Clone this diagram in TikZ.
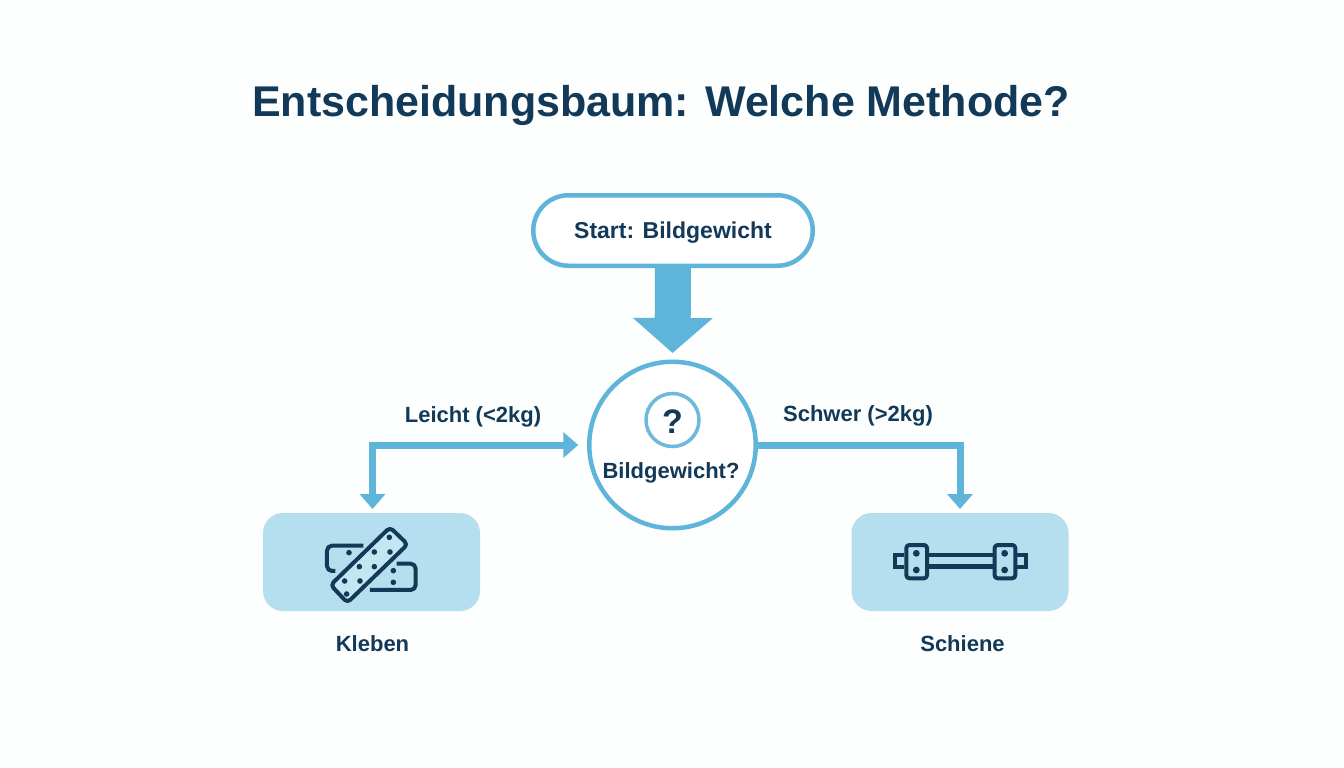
\documentclass[tikz,border=0pt]{standalone}
\usepackage{fontspec}
\setmainfont{Liberation Sans}
\usetikzlibrary{arrows.meta}
\definecolor{ink}{HTML}{123A58}
\definecolor{flow}{HTML}{5FB5D9}
\definecolor{panel}{HTML}{B5DFEF}
\definecolor{ringc}{HTML}{6DB9D9}
\definecolor{paper}{HTML}{FDFEFE}
\tikzset{
  x=1pt,y=-1pt,
  txt/.style={text=ink,font=\bfseries\fontsize{#1}{#1}\selectfont,inner sep=0pt,outer sep=0pt,anchor=center},
  pill/.style={draw=flow,line width=4.5pt,fill=white,rounded corners=35.25pt,minimum width=279.5pt,minimum height=70.5pt,inner sep=0pt,outer sep=0pt},
  bigcirc/.style={circle,draw=flow,line width=4.5pt,fill=white,minimum size=166.5pt,inner sep=0pt,outer sep=0pt},
  smallcirc/.style={circle,draw=ringc,line width=3.5pt,minimum size=53pt,inner sep=0pt,outer sep=0pt},
  panelbox/.style={fill=panel,rounded corners=20pt,minimum width=217pt,minimum height=98pt,inner sep=0pt,outer sep=0pt},
  conn/.style={draw=flow,line width=7pt,-{Triangle[length=15pt,width=25pt]}},
  iconline/.style={draw=ink,line width=4pt,line join=round},
  icondot/.style={fill=ink},
}
\begin{document}
\begin{tikzpicture}
\useasboundingbox (0,0) rectangle (1344,768);
\fill[paper] (0,0) rectangle (1344,768);
\node[txt=43] (title) at (661,105) {Entscheidungsbaum: Welche Methode?};
\node[pill] (start) at (673,230.5) {};
\node[txt=23] (starttext) at (673,233) {Start: Bildgewicht};
\node[bigcirc] (q) at (672.5,445) {};
\node[smallcirc] (qring) at (672.5,420) {};
\node[txt=34] (qmark) at (672.5,421.5) {?};
\node[txt=22] (qtext) at (671,472.5) {Bildgewicht?};
\node[panelbox] (kleben) at (371.5,562) {};
\node[panelbox] (schiene) at (960,562) {};
\node[txt=22] (klebentext) at (372.5,644) {Kleben};
\node[txt=22] (schienetext) at (962.5,644) {Schiene};
\node[txt=22] (leicht) at (473,416.5) {Leicht (<2kg)};
\node[txt=22] (schwer) at (858,415.5) {Schwer (>2kg)};
% connectors
\draw[draw=flow,line width=36pt,-{Triangle[length=35pt,width=78pt]},shorten >=8.75pt] (start.south) -- (q.north);
\draw[conn,{Triangle[length=15pt,width=25pt]}-{Triangle[length=15pt,width=25pt]},shorten <=11pt,shorten >=4pt] (q.west) -| ([xshift=1pt]kleben.north);
\draw[conn,shorten >=4pt] (q.east) -| (schiene.north);
% Kleben icon
\begin{scope}[shift={(250,500)},x=0.3333pt,y=-0.3333pt]
  \draw[iconline,rounded corners=5pt] (340,137) -- (231,137) -- (231,213) -- (256,213);
  \draw[iconline,rounded corners=5pt] (440,191) -- (497,191) -- (497,270) -- (360,270);
  \draw[iconline,rounded corners=4pt,fill=panel!80!white] (420,82) -- (473,133) -- (292,308) -- (242,255) -- cycle;
  \foreach \px/\py in {418/112,373/156,420/156,297/158,328/200,373/200,430/212,284/243,330/243,430/247,290/282}
    \fill[icondot] (\px,\py) circle (2.8pt);
\end{scope}
% Schiene icon
\begin{scope}[shift={(840,500)},x=0.3333pt,y=-0.3333pt]
  \draw[iconline,line width=4.4pt,line join=miter] (265,165) -- (460,165);
  \draw[iconline,line width=4.4pt,line join=miter] (265,200) -- (460,200);
  \draw[iconline,line width=4pt,line join=miter] (193,164) -- (166,164) -- (166,201) -- (193,201);
  \draw[iconline,line width=4pt,line join=miter] (532,164) -- (557,164) -- (557,201) -- (532,201);
  \draw[iconline,rounded corners=3pt] (199,135) rectangle (261,235);
  \draw[iconline,rounded corners=3pt] (464,135) rectangle (526,235);
  \foreach \px/\py in {229/160,229/210,494/160,494/210}
    \fill[icondot] (\px,\py) circle (3.4pt);
\end{scope}
\end{tikzpicture}
\end{document}
